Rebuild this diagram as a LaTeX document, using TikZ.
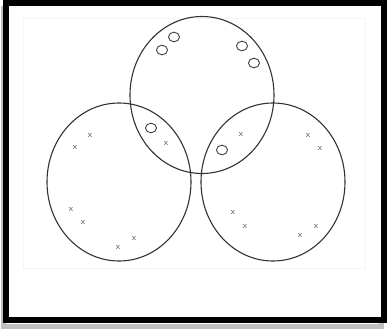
\documentclass[tikz,border=0pt]{standalone}
\usepackage{tikz}

\begin{document}
\begin{tikzpicture}[
  x=1pt,y=-1pt,
  set/.style={draw=black!80,line width=1.1pt},
  dot/.style={draw=black!75,line width=0.9pt},
  cross/.style={font=\small\sffamily,text=black!70,inner sep=0pt},
  frame/.style={draw=black,line width=5.5pt},
  shade/.style={draw=black!25,line width=5pt}
]
\useasboundingbox (0,0) rectangle (389,329);
% frame with its shadow
\draw[shade] (3,9) rectangle (381,326);
\fill[white] (6,3) rectangle (384,320);
\draw[frame] (6,3) rectangle (384,320);
\draw[black!4] (23,18) rectangle (365,268);
% the three sets
\draw[set] (202,95) ellipse (72 and 78.5);
\draw[set] (119,182) ellipse (72 and 79);
\draw[set] (273,182) ellipse (72 and 79);
% o marks
\foreach \px/\py in {162/50,174/37,242/46,254/63,151/128,222/150}
  \draw[dot] (\px,\py) ellipse (5.5 and 4.8);
% x marks
\foreach \px/\py [count=\i] in {90/136,75/148,71/210,83/223,118/248,134/239,166/144,
    241/135,308/136,320/149,233/213,245/227,300/236,316/227}
  \node[cross] (x\i) at (\px,\py) {x};
\end{tikzpicture}
\end{document}
